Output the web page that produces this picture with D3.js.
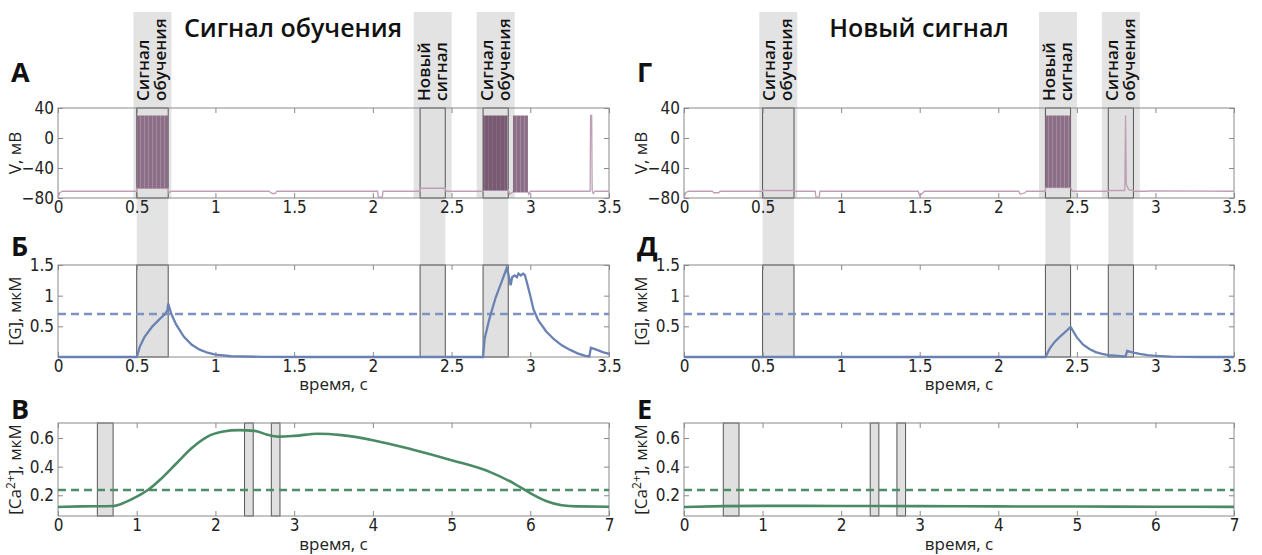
<!DOCTYPE html>
<html>
<head>
<meta charset="utf-8">
<script src="https://cdn.jsdelivr.net/npm/d3@7"></script>
<style>
  body { margin: 0; background: #fff; }
  .tk text { font-family: "Liberation Sans Narrow", "DejaVu Sans Condensed", sans-serif; font-size: 17px; fill: #222; }
  .tk line { stroke: #8a8a8a; }
  .lbl { font-family: "Open Sans", "DejaVu Sans", sans-serif; font-size: 17px; fill: #222; }
  .ttl { font-family: "Open Sans", sans-serif; font-weight: 600; font-size: 25px; fill: #111; }
  .let { font-family: "Open Sans", sans-serif; font-weight: 700; font-size: 27px; fill: #111; }
  .hdr { font-family: "Open Sans", sans-serif; font-weight: 600; font-size: 17px; fill: #111; }
</style>
</head>
<body>
<div id="chart"></div>
<script>
// ticks
var timeTicks = [0, 0.5, 1, 1.5, 2, 2.5, 3, 3.5];
var longTimeTicks = [0, 1, 2, 3, 4, 5, 6, 7];
var vTicks = [40, 0, -40, -80];
var gTicks = [0.5, 1, 1.5];
var caTicks = [0.2, 0.4, 0.6];

// stimulus windows (s)
var bandStart = [0.5, 2.3, 2.7];
var bandEnd = [0.7, 2.46, 2.86];
var bandNames = [["Сигнал", "обучения"], ["Новый", "сигнал"], ["Сигнал", "обучения"]];
var caBandStart = [0.5, 2.37, 2.71];
var caBandEnd = [0.7, 2.48, 2.82];

// thresholds
var gThreshold = 0.7;
var caThreshold = 0.237;

// membrane potential, left (training signal)
var vLeft = [[0,-80],[0.01,-73],[0.03,-71],[0.5,-71],[0.5,-67],[0.7,-67],[0.705,-73],[0.72,-71],
  [1.34,-71],[1.36,-74],[1.38,-74],[1.39,-71],[2.03,-71],[2.035,-79],[2.06,-79],[2.065,-71],
  [2.3,-71],[2.3,-67],[2.46,-67],[2.465,-71],[2.7,-71],[2.7,-69],[2.86,-69],[2.87,-75],[2.89,-72],
  [2.985,-72],[2.99,-75],[3.0,-71],[3.38,-71],[3.383,30],[3.39,30],[3.393,-70],[3.4,-74],[3.41,-71],[3.5,-71]];
var burstLeft = [[0.5, 0.7, -67, 30], [2.7, 2.855, -70, 30], [2.89, 2.985, -72, 30]];

// membrane potential, right (new signal)
var vRight = [[0,-80],[0.01,-73],[0.03,-71],[0.18,-71],[0.19,-73],[0.22,-73],[0.23,-71],[0.5,-71],[0.5,-70],
  [0.7,-70],[0.705,-71],[0.835,-71],[0.84,-79],[0.86,-79],[0.865,-71],[1.49,-71],[1.5,-77],[1.52,-73],[1.53,-71],
  [2.13,-71],[2.14,-75],[2.17,-73],[2.18,-71],[2.3,-71],[2.3,-66],[2.46,-66],[2.47,-71],[2.7,-71],[2.7,-70],
  [2.805,-70],[2.81,30],[2.815,-62],[2.83,-69],[2.86,-70],[2.865,-71],[2.95,-71],[2.96,-70.5],[3.5,-71]];
var burstRight = [[2.3, 2.46, -66, 30]];

// [G], left and right
var gLeft = [[0,0],[0.5,0],[0.52,0.17],[0.55,0.33],[0.6,0.5],[0.65,0.63],[0.68,0.7],[0.695,0.76],[0.7,0.87],
  [0.72,0.7],[0.75,0.53],[0.8,0.33],[0.85,0.2],[0.9,0.12],[0.95,0.07],[1.0,0.04],[1.1,0.012],[1.3,0.002],[1.6,0],
  [2.7,0],[2.71,0.3],[2.74,0.62],[2.78,0.97],[2.82,1.24],[2.845,1.41],[2.85,1.45],[2.86,1.36],[2.875,1.17],
  [2.885,1.3],[2.9,1.33],[2.915,1.3],[2.925,1.36],[2.94,1.33],[2.955,1.36],[2.965,1.34],[2.98,1.2],[3.0,1.0],
  [3.02,0.78],[3.05,0.6],[3.1,0.42],[3.15,0.29],[3.2,0.19],[3.25,0.12],[3.3,0.06],[3.35,0.02],[3.375,0.01],
  [3.385,0.15],[3.42,0.12],[3.46,0.08],[3.5,0.05]];
var gRight = [[0,0],[2.3,0],[2.33,0.15],[2.36,0.25],[2.4,0.35],[2.44,0.44],[2.46,0.49],[2.5,0.32],[2.54,0.2],
  [2.58,0.13],[2.62,0.08],[2.66,0.05],[2.7,0.03],[2.8,0.01],[2.81,0.01],[2.82,0.1],[2.86,0.07],[2.9,0.05],
  [2.95,0.03],[3.0,0.02],[3.1,0.005],[3.3,0],[3.5,0]];

// [Ca2+], left and right
var caLeft = [[0,0.118],[0.3,0.122],[0.7,0.125],[0.85,0.15],[1.0,0.19],[1.15,0.24],[1.3,0.31],[1.5,0.42],
  [1.7,0.53],[1.9,0.61],[2.1,0.645],[2.3,0.655],[2.5,0.65],[2.65,0.625],[2.8,0.61],[3.0,0.615],[3.3,0.63],
  [3.6,0.62],[4.0,0.585],[4.5,0.52],[5.0,0.445],[5.5,0.36],[5.8,0.28],[6.0,0.215],[6.2,0.16],[6.4,0.13],
  [6.6,0.122],[7.0,0.12]];
var caRight = [[0,0.118],[0.5,0.124],[1.0,0.126],[2.0,0.125],[3.0,0.124],[4.0,0.122],[5.0,0.121],[6.0,0.12],[7.0,0.119]];

var W = 1262, H = 555;
var svg = d3.select("#chart").append("svg").attr("width", W).attr("height", H);

// spike texture for bursts
var defs = svg.append("defs");
[["burstLight", "#a189a0", "#8c6e87"], ["burstDark", "#86697f", "#785a72"]].forEach(function(p) {
  var pat = defs.append("pattern").attr("id", p[0]).attr("patternUnits", "userSpaceOnUse").attr("width", 4).attr("height", 10);
  pat.append("rect").attr("width", 4).attr("height", 10).attr("fill", p[2]);
  pat.append("rect").attr("width", 1).attr("height", 10).attr("fill", p[1]);
});

var cols = [{x0: 58, x1: 609, v: vLeft, burst: burstLeft, g: gLeft, ca: caLeft, title: "Сигнал обучения", letters: ["А", "Б", "В"]},
            {x0: 684, x1: 1234, v: vRight, burst: burstRight, g: gRight, ca: caRight, title: "Новый сигнал", letters: ["Г", "Д", "Е"]}];
var rowA = [108, 198], rowB = [265, 357], rowC = [423, 516];

function frame(g, x, y, xt, yt) {
  var bottom = y.range()[0], top = y.range()[1];
  g.append("g").attr("class", "tk").attr("transform", `translate(0,${bottom})`)
    .call(d3.axisBottom(x).tickValues(xt).tickSizeInner(-5).tickSizeOuter(0).tickPadding(3).tickFormat(d3.format("")));
  g.append("g").attr("class", "tk").attr("transform", `translate(0,${top})`)
    .call(d3.axisTop(x).tickValues(xt).tickSizeInner(-5).tickSizeOuter(0).tickFormat(""));
  g.append("g").attr("class", "tk").attr("transform", `translate(${x.range()[0]},0)`)
    .call(d3.axisLeft(y).tickValues(yt).tickSizeInner(-5).tickSizeOuter(0).tickPadding(4).tickFormat(d3.format("")));
  g.append("g").attr("class", "tk").attr("transform", `translate(${x.range()[1]},0)`)
    .call(d3.axisRight(y).tickValues(yt).tickSizeInner(-5).tickSizeOuter(0).tickFormat(""));
  g.selectAll(".domain").remove();
  g.append("rect").attr("x", x.range()[0]).attr("y", top)
    .attr("width", x.range()[1] - x.range()[0]).attr("height", bottom - top)
    .attr("fill", "none").attr("stroke", "#8a8a8a");
}

cols.forEach(function(c) {
  var g = svg.append("g");
  var x = d3.scaleLinear().domain([0, 3.5]).range([c.x0, c.x1]);
  var xl = d3.scaleLinear().domain([0, 7]).range([c.x0, c.x1]);
  var yV = d3.scaleLinear().domain([-80, 40]).range([rowA[1], rowA[0]]);
  var yG = d3.scaleLinear().domain([0, 1.5]).range([rowB[1], rowB[0]]);
  var yC = d3.scaleLinear().domain([0.055, 0.705]).range([rowC[1], rowC[0]]);
  var mid = (c.x0 + c.x1) / 2;

  // header bands and stripes linking A and B
  bandStart.forEach(function(s, i) {
    var xa = x(s), xb = x(bandEnd[i]), cx = (xa + xb) / 2;
    g.append("rect").attr("x", cx - 19).attr("y", 12).attr("width", 38).attr("height", rowA[1] - 12).attr("fill", "#e3e3e3");
    g.append("rect").attr("x", xa).attr("y", rowA[1]).attr("width", xb - xa).attr("height", rowB[1] - rowA[1]).attr("fill", "#e3e3e3");
    bandNames[i].forEach(function(t, k) {
      g.append("text").attr("class", "hdr")
        .attr("transform", `translate(${cx - 3 + k * 17},101) rotate(-90)`)
        .text(t);
    });
  });

  // band outlines inside plots
  [rowA, rowB].forEach(function(r) {
    bandStart.forEach(function(s, i) {
      g.append("rect").attr("x", x(s)).attr("y", r[0]).attr("width", x(bandEnd[i]) - x(s))
        .attr("height", r[1] - r[0]).attr("fill", "#e0e0e0").attr("stroke", "#555").attr("stroke-width", 1);
    });
  });
  caBandStart.forEach(function(s, i) {
    g.append("rect").attr("x", xl(s)).attr("y", rowC[0]).attr("width", xl(caBandEnd[i]) - xl(s))
      .attr("height", rowC[1] - rowC[0]).attr("fill", "#e0e0e0").attr("stroke", "#555").attr("stroke-width", 1);
  });

  frame(g, x, yV, timeTicks, vTicks);
  frame(g, x, yG, timeTicks, gTicks);
  frame(g, xl, yC, longTimeTicks, caTicks);

  // voltage trace
  g.append("path").datum(c.v).attr("fill", "none").attr("stroke", "#bf9fb5").attr("stroke-width", 1.3)
    .attr("d", d3.line().x(d => x(d[0])).y(d => yV(d[1])));
  g.selectAll(".burst").data(c.burst).enter().append("rect")
    .attr("x", d => x(d[0])).attr("y", d => yV(d[3]))
    .attr("width", d => x(d[1]) - x(d[0])).attr("height", d => yV(d[2]) - yV(d[3]))
    .attr("fill", (d, i) => (c.burst.length > 1 && i === 1) ? "url(#burstDark)" : "url(#burstLight)");

  // [G]
  g.append("line").attr("x1", c.x0).attr("x2", c.x1).attr("y1", yG(gThreshold)).attr("y2", yG(gThreshold))
    .attr("stroke", "#7e93c4").attr("stroke-width", 2.5).attr("stroke-dasharray", "8,5");
  g.append("path").datum(c.g).attr("fill", "none").attr("stroke", "#6a82b3").attr("stroke-width", 2.3)
    .attr("d", d3.line().x(d => x(d[0])).y(d => yG(d[1])));

  // [Ca2+]
  g.append("line").attr("x1", c.x0).attr("x2", c.x1).attr("y1", yC(caThreshold)).attr("y2", yC(caThreshold))
    .attr("stroke", "#4d8d68").attr("stroke-width", 2.5).attr("stroke-dasharray", "8,5");
  g.append("path").datum(c.ca).attr("fill", "none").attr("stroke", "#4a8a65").attr("stroke-width", 2.6)
    .attr("d", d3.line().curve(d3.curveMonotoneX).x(d => xl(d[0])).y(d => yC(d[1])));

  // texts
  g.append("text").attr("class", "ttl").attr("x", c.x0 + 235).attr("y", 37).attr("text-anchor", "middle").text(c.title);
  [[82, c.letters[0]], [256, c.letters[1]], [419, c.letters[2]]].forEach(function(l) {
    g.append("text").attr("class", "let").attr("x", c.x0 - 47).attr("y", l[0]).text(l[1]);
  });
  function ylab(cy, t) {
    return g.append("text").attr("class", "lbl").attr("text-anchor", "middle")
      .attr("transform", `translate(${c.x0 - 37},${cy}) rotate(-90)`).text(t);
  }
  ylab((rowA[0] + rowA[1]) / 2, "V, мВ");
  ylab((rowB[0] + rowB[1]) / 2, "[G], мкМ");
  var ca = ylab((rowC[0] + rowC[1]) / 2, "[Ca");
  ca.append("tspan").attr("dy", -6).attr("font-size", 12).text("2+");
  ca.append("tspan").attr("dy", 6).text("], мкМ");
  g.append("text").attr("class", "lbl").attr("x", mid).attr("y", 390).attr("text-anchor", "middle").text("время, с");
  g.append("text").attr("class", "lbl").attr("x", mid).attr("y", 550).attr("text-anchor", "middle").text("время, с");
});
</script>
</body>
</html>
